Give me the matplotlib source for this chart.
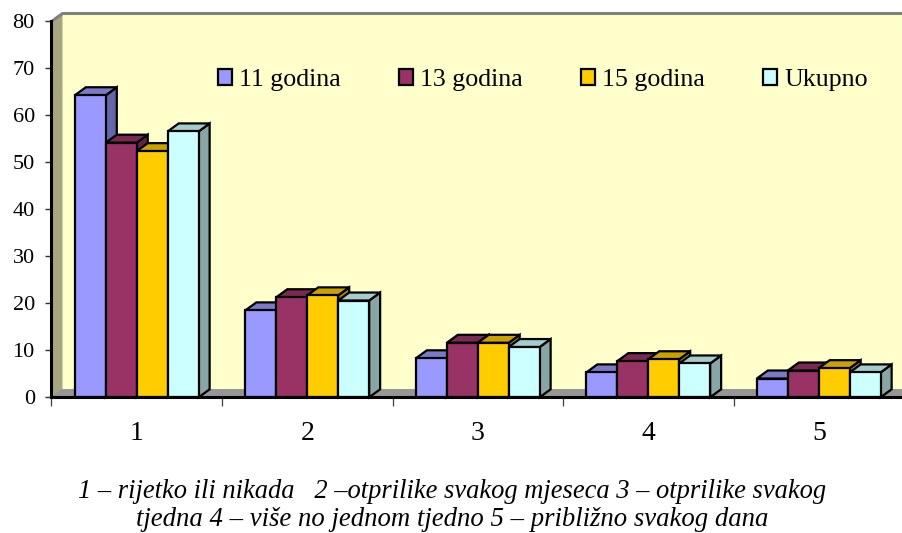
import matplotlib
matplotlib.use("Agg")
import matplotlib.pyplot as plt
from matplotlib.patches import Polygon, Patch

categories = ["1", "2", "3", "4", "5"]
series_names = ["11 godina", "13 godina", "15 godina", "Ukupno"]
v11 = [64.3, 18.5, 8.3, 5.3, 4.0]
v13 = [54.2, 21.3, 11.6, 7.7, 5.7]
v15 = [52.4, 21.7, 11.6, 8.1, 6.2]
vuk = [56.6, 20.6, 10.7, 7.2, 5.3]
series = [v11, v13, v15, vuk]
front = ["#9999FF", "#993366", "#FFCC00", "#CCFFFF"]
top = ["#7A7AC6", "#7A2952", "#C9A200", "#A3CCCC"]
side = ["#6666AA", "#662244", "#AA8800", "#88A6A6"]
caption = ["1 – rijetko ili nikada   2 –otprilike svakog mjeseca 3 – otprilike svakog",
           "tjedna 4 – više no jednom tjedno 5 – približno svakog dana"]
yticks = [0, 10, 20, 30, 40, 50, 60, 70, 80]

W, H = 903, 533
plt.rcParams["font.family"] = ["Liberation Serif", "DejaVu Serif"]
fig = plt.figure(figsize=(W / 100, H / 100), dpi=100, facecolor="white")
L, R, T, B = 51.5, 904, 21.5, 397.3
ax = fig.add_axes([L / W, 1 - B / H, (R - L) / W, (B - T) / H])
ax.set_xlim(0, 5)
ax.set_ylim(0, 80)
ax.patch.set_visible(False)

dx = 11 / ((R - L) / 5)
dy = 8 / ((B - T) / 80)
bw = 0.1815
gap = (1 - 4 * bw) / 2
lw = 1.6


def poly(pts, color, z, ec="none", w=0.0):
    ax.add_patch(Polygon(pts, closed=True, facecolor=color, edgecolor=ec, linewidth=w,
                         zorder=z, clip_on=False, joinstyle="miter"))


# walls and floor
poly([(dx, dy), (5 + dx, dy), (5 + dx, 80 + dy), (dx, 80 + dy)], "#FFFFCC", 1)
poly([(0, 0), (dx, dy), (dx, 80 + dy), (0, 80)], "#A6A680", 1.1)
poly([(0, 0), (5 + dx, 0), (5 + dx, dy), (dx, dy)], "#969696", 1.2)
ax.plot([0, dx, 5 + dx], [80, 80 + dy, 80 + dy], color="#808080", lw=2.2, zorder=1.3, clip_on=False)

# bars, painted left to right so that each one hides the side of its neighbour
z = 2.0
for c in range(len(categories)):
    for s, vals in enumerate(series):
        x0 = c + gap + s * bw
        x1 = x0 + bw
        v = vals[c]
        poly([(x1, 0), (x1 + dx, dy), (x1 + dx, v + dy), (x1, v)], side[s], z, "black", lw)
        poly([(x0, v), (x0 + dx, v + dy), (x1 + dx, v + dy), (x1, v)], top[s], z + 0.01, "black", lw)
        ax.bar(x0, v, width=bw, align="edge", color=front[s], edgecolor="black", linewidth=lw,
               zorder=z + 0.02, clip_on=False)
        z += 0.1

for sp in ("top", "right"):
    ax.spines[sp].set_visible(False)
ax.spines["left"].set_linewidth(2.2)
ax.spines["bottom"].set_linewidth(2.2)
ax.spines["left"].set_zorder(50)
ax.spines["bottom"].set_zorder(50)

ax.set_yticks(yticks)
ax.set_yticklabels([str(t) for t in yticks], fontsize=16)
ax.tick_params(axis="y", length=4, width=1, pad=8, color="#303030")
ax.set_xticks([i + 0.5 for i in range(5)])
ax.set_xticklabels(categories, fontsize=20)
ax.tick_params(axis="x", which="major", length=0, pad=17)
ax.set_xticks(range(6), minor=True)
ax.tick_params(axis="x", which="minor", length=6.5, width=0.9, color="#404040")

handles = [Patch(facecolor=f, edgecolor="black", linewidth=1.6) for f in front]
leg = ax.legend(handles, series_names, ncol=4, frameon=False, fontsize=18.6,
                loc="center left", bbox_to_anchor=((218 - L) / (R - L), (B - 80) / (B - T)),
                borderaxespad=0, borderpad=0, handlelength=0.54, handleheight=0.6,
                handletextpad=0.28, columnspacing=2.25, labelspacing=0)
leg.set_zorder(60)

fig.text(452 / W, 1 - 491 / H, caption[0], style="italic", fontsize=19.1, ha="center", va="center")
fig.text(452 / W, 1 - 520 / H, caption[1], style="italic", fontsize=19.3, ha="center", va="center")

fig.savefig("out.png", dpi=100)
